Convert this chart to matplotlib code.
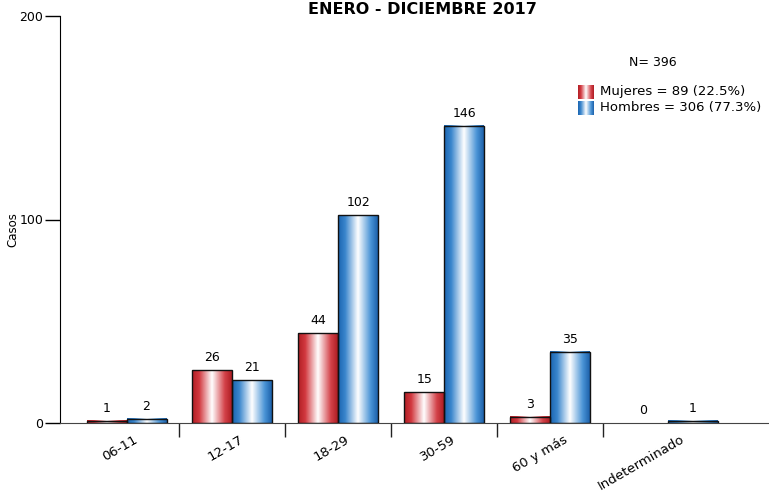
import numpy as np
import matplotlib
matplotlib.use("Agg")
import matplotlib.pyplot as plt
from matplotlib.colors import LinearSegmentedColormap
from matplotlib.patches import Rectangle
from matplotlib.transforms import ScaledTranslation

categories = ["06-11", "12-17", "18-29", "30-59", "60 y más", "Indeterminado"]
mujeres = [1, 26, 44, 15, 3, 0]
hombres = [2, 21, 102, 146, 35, 1]
title = "ENERO - DICIEMBRE 2017"
n_text = "N= 396"
legend_labels = ["Mujeres = 89 (22.5%)", "Hombres = 306 (77.3%)"]

red_cmap = LinearSegmentedColormap.from_list(
    "red", [(0, "#b01e24"), (0.18, "#d2383f"), (0.5, "#ffffff"), (0.82, "#d4434a"), (1, "#ad1c22")])
blue_cmap = LinearSegmentedColormap.from_list(
    "blue", [(0, "#1a64b0"), (0.18, "#3a86cc"), (0.5, "#ffffff"), (0.82, "#4a94d6"), (1, "#1c60aa")])

W, H = 769, 492
DPI = 100
fig = plt.figure(figsize=(W / DPI, H / DPI), dpi=DPI)
ax = fig.add_axes([60 / W, (H - 423) / H, (769 - 60) / W, (423 - 16) / H])

grad = np.linspace(0, 1, 256).reshape(1, -1)
step = 105.9
bw_std = 40 / step

def draw_bar(x0, bw, h, cmap):
    if h <= 0:
        return
    ax.imshow(grad, cmap=cmap, extent=(x0, x0 + bw, 0, h), aspect="auto",
              interpolation="bilinear", zorder=2)
    ax.add_patch(Rectangle((x0, 0), bw, h, fill=False, edgecolor="#111111",
                           linewidth=1.0, zorder=3))

n = len(categories)
for i, (m, h) in enumerate(zip(mujeres, hombres)):
    # the reference renders the last group slightly wider and shifted
    if i == n - 1:
        bw = 50 / step
        c = i + 12 / step
    else:
        bw = bw_std
        c = i
    draw_bar(c - bw, bw, m, red_cmap)
    draw_bar(c, bw, h, blue_cmap)
    ax.text(c - bw / 2, m + 3, str(m), ha="center", va="bottom", fontsize=9)
    ax.text(c + bw / 2, h + 3, str(h), ha="center", va="bottom", fontsize=9)

ax.set_xlim((60 - 126.5) / step, (769 - 126.5) / step)
ax.set_ylim(0, 200)
ax.set_yticks([0, 100, 200])
ax.tick_params(axis="y", labelsize=9, length=11, width=1, pad=1)
ax.set_xticks([i + 0.5 for i in range(n - 1)])
ax.set_xticklabels([])
ax.tick_params(axis="x", length=10, width=1, color="#222222")
for s in ["top", "right"]:
    ax.spines[s].set_visible(False)
ax.spines["bottom"].set_color("#444444")
ax.set_ylabel("Casos", fontsize=8.5)
ax.yaxis.set_label_coords(-41 / 709, (423 - 230) / 407)

# category labels: rotated, top-right end placed a third of their width right of the centre
xlabels = []
for i, cat in enumerate(categories):
    t = ax.text(i, 0, cat, rotation=30, ha="right", va="top", rotation_mode="anchor",
                fontsize=9.5, transform=ax.get_xaxis_transform())
    xlabels.append(t)
fig.canvas.draw()
renderer = fig.canvas.get_renderer()
for i, t in enumerate(xlabels):
    bb = t.get_window_extent(renderer)
    cx = ax.transData.transform((i, 0))[0]
    target_right = cx + 0.34 * bb.width
    target_top = H - 433
    dx = target_right - bb.x1
    dy = target_top - bb.y1
    t.set_transform(ax.get_xaxis_transform() + ScaledTranslation(dx / DPI, dy / DPI, fig.dpi_scale_trans))

fig.text(422 / W, 1 - 10 / H, title, ha="center", va="center", fontsize=11.5, fontweight="bold")
fig.text(653 / W, 1 - 62 / H, n_text, ha="center", va="center", fontsize=9)

for j, (lab, cmap) in enumerate(zip(legend_labels, [red_cmap, blue_cmap])):
    yc = 92 + j * 16
    lax = fig.add_axes([578 / W, 1 - (yc + 7) / H, 16 / W, 14 / H])
    lax.imshow(grad, cmap=cmap, aspect="auto", interpolation="bilinear")
    lax.axis("off")
    fig.text(600 / W, 1 - yc / H, lab, ha="left", va="center", fontsize=9.5)

fig.savefig("out.png", dpi=DPI)
